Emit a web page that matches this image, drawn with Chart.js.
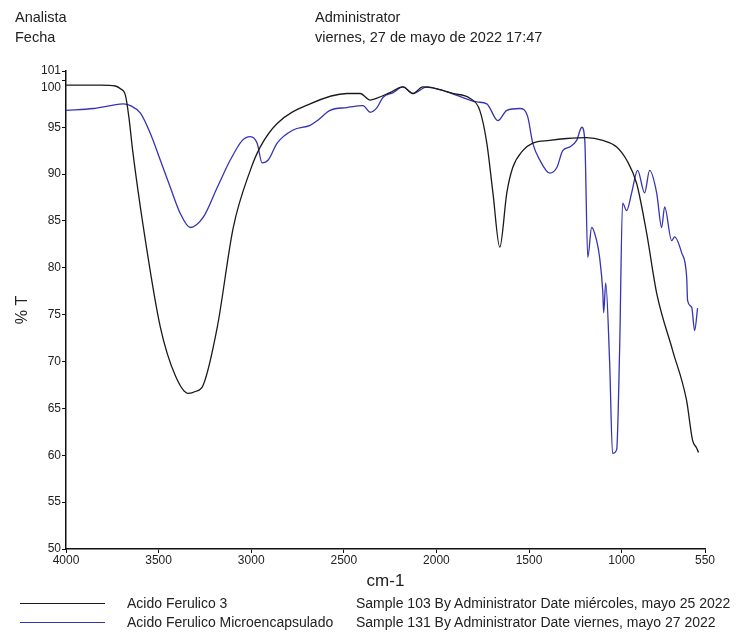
<!DOCTYPE html>
<html>
<head>
<meta charset="utf-8">
<script src="https://cdn.jsdelivr.net/npm/chart.js@4/dist/chart.umd.min.js"></script>
<style>
  html, body { margin: 0; padding: 0; background: #fff; }
  #wrap { position: relative; width: 736px; height: 635px; font-family: 'Liberation Sans Narrow', 'Liberation Sans', Arial, sans-serif; color: #222; }
  #wrap canvas { position: absolute; left: 0; top: 0; }
  .txt { position: absolute; white-space: nowrap; }
  .hd { font-size: 14.5px; line-height: 17px; }
  .lg { font-size: 14px; line-height: 16px; }
  .lg-line { position: absolute; height: 0; border-top: 1.5px solid; width: 85px; }
</style>
</head>
<body>
<div id="wrap">
  <canvas id="irChart" width="736" height="635"></canvas>
  <div class="txt hd" style="left:15px; top:9px;">Analista</div>
  <div class="txt hd" style="left:15px; top:29px;">Fecha</div>
  <div class="txt hd" style="left:315px; top:9px;">Administrator</div>
  <div class="txt hd" style="left:315px; top:29px;">viernes, 27 de mayo de 2022 17:47</div>
  <div id="legend"></div>
</div>
<script>
// Espectro IR - Acido Ferulico 3 (numero de onda en cm-1, %T)
const ferulicoWn = [4000, 3814, 3733, 3706, 3679, 3660, 3640, 3582, 3491, 3410, 3340, 3302, 3259, 3183, 3097, 3005, 2951, 2860, 2682, 2483, 2412, 2358, 2321, 2251, 2181, 2127, 2073, 1998, 1912, 1820, 1766, 1728, 1695, 1658, 1620, 1588, 1534, 1480, 1388, 1297, 1189, 1102, 1027, 973, 919, 865, 811, 725, 650, 617, 596, 585];
const ferulicoT = [99.5, 99.5, 99.4, 99.1, 98.4, 96.0, 92.5, 84.3, 73.7, 68.5, 66.6, 66.8, 67.5, 73.7, 84.3, 90.4, 92.9, 95.4, 97.5, 98.6, 98.6, 97.9, 98.1, 98.7, 99.3, 98.6, 99.3, 99.1, 98.6, 98.1, 96.8, 93.3, 88.0, 82.2, 88.0, 90.7, 92.5, 93.3, 93.6, 93.8, 93.9, 93.6, 92.9, 91.5, 89.0, 83.7, 77.3, 71.2, 65.9, 61.6, 60.8, 60.3];

// Espectro IR - Acido Ferulico Microencapsulado
const microWn = [4000, 3852, 3760, 3690, 3652, 3598, 3544, 3491, 3437, 3383, 3329, 3259, 3183, 3113, 3048, 3005, 2968, 2941, 2908, 2860, 2774, 2682, 2644, 2574, 2483, 2396, 2358, 2321, 2288, 2234, 2181, 2127, 2051, 1981, 1889, 1782, 1728, 1668, 1620, 1550, 1507, 1480, 1442, 1388, 1350, 1318, 1280, 1243, 1215, 1199, 1183, 1162, 1135, 1119, 1102, 1097, 1086, 1065, 1049, 1027, 1011, 995, 973, 946, 914, 876, 849, 811, 784, 768, 730, 714, 676, 649, 644, 622, 606, 590];
const microT = [96.8, 97.0, 97.3, 97.5, 97.3, 96.5, 94.3, 91.5, 88.6, 85.8, 84.3, 85.4, 88.6, 91.5, 93.6, 94.0, 93.3, 91.2, 91.5, 93.3, 94.7, 95.2, 95.7, 96.8, 97.1, 97.3, 96.6, 97.1, 98.2, 98.7, 99.3, 98.6, 99.3, 99.0, 98.4, 97.7, 97.5, 95.7, 96.8, 97.0, 96.1, 93.3, 91.5, 90.1, 90.7, 92.5, 92.9, 93.6, 95.0, 93.6, 81.1, 84.3, 82.9, 81.1, 77.5, 75.2, 78.4, 70.0, 60.2, 60.6, 71.2, 86.9, 86.1, 88.0, 90.4, 88.0, 90.4, 88.0, 84.3, 86.5, 82.9, 83.3, 81.6, 79.0, 76.5, 75.8, 73.3, 75.7];

// Marcas de los ejes
const xTicks = [4000, 3500, 3000, 2500, 2000, 1500, 1000, 550];
const yTicks = [50, 55, 60, 65, 70, 75, 80, 85, 90, 95, 100, 101];

const series = [
    { label: 'Acido Ferulico 3', info: 'Sample 103 By Administrator Date miércoles, mayo 25 2022', wn: ferulicoWn, t: ferulicoT, color: '#1a1a1a' },
    { label: 'Acido Ferulico Microencapsulado', info: 'Sample 131 By Administrator Date viernes, mayo 27 2022', wn: microWn, t: microT, color: '#3434b4' }
];

const fontFam = "'Liberation Sans Narrow', 'Liberation Sans', Arial, sans-serif";

document.addEventListener('DOMContentLoaded', function () {
    const ctx = document.getElementById('irChart').getContext('2d');
    new Chart(ctx, {
        type: 'line',
        data: {
            datasets: series.map(s => ({
                label: s.label,
                data: s.wn.map((w, i) => ({ x: w, y: s.t[i] })),
                borderColor: s.color,
                borderWidth: 1.3,
                pointRadius: 0,
                cubicInterpolationMode: 'monotone',
                fill: false
            }))
        },
        options: {
            responsive: false,
            animation: false,
            devicePixelRatio: 1,
            layout: { padding: { top: 71, right: 31, left: 0, bottom: 0 } },
            plugins: {
                legend: { display: false },
                tooltip: { enabled: false }
            },
            scales: {
                x: {
                    type: 'linear',
                    reverse: true,
                    min: 550,
                    max: 4000,
                    afterBuildTicks: scale => { scale.ticks = xTicks.map(v => ({ value: v })); },
                    afterFit: scale => { scale.height = 86; },
                    grid: { drawOnChartArea: false, tickLength: 4, color: '#111' },
                    border: { color: '#111', width: 1.5 },
                    ticks: {
                        color: '#222',
                        font: { family: fontFam, size: 12 },
                        padding: 0,
                        maxRotation: 0,
                        autoSkip: false,
                        callback: v => String(v)
                    },
                    title: { display: true, text: 'cm-1', color: '#222', font: { family: fontFam, size: 17 }, padding: { top: 0, bottom: 43 } }
                },
                y: {
                    min: 50,
                    max: 101,
                    afterBuildTicks: scale => { scale.ticks = yTicks.map(v => ({ value: v })); },
                    afterFit: scale => { scale.width = 66; },
                    grid: { drawOnChartArea: false, tickLength: 4, color: '#111' },
                    border: { color: '#111', width: 1.5 },
                    ticks: {
                        color: '#222',
                        font: { family: fontFam, size: 12 },
                        padding: 1,
                        autoSkip: false,
                        // la etiqueta 100 va un poco mas abajo para no chocar con 101
                        callback: v => v === 100 ? ['', '100'] : String(v)
                    },
                    title: { display: true, text: '% T', color: '#222', font: { family: fontFam, size: 16 }, padding: { top: 13, bottom: 0 } }
                }
            }
        }
    });

    // Leyenda inferior
    const legend = document.getElementById('legend');
    series.forEach((s, i) => {
        const y = 603 + i * 19;
        legend.insertAdjacentHTML('beforeend',
            `<div class="lg-line" style="left:20px; top:${y}px; border-color:${s.color}"></div>` +
            `<div class="txt lg" style="left:127px; top:${y - 8}px;">${s.label}</div>` +
            `<div class="txt lg" style="left:356px; top:${y - 8}px;">${s.info}</div>`);
    });
});
</script>
</body>
</html>
